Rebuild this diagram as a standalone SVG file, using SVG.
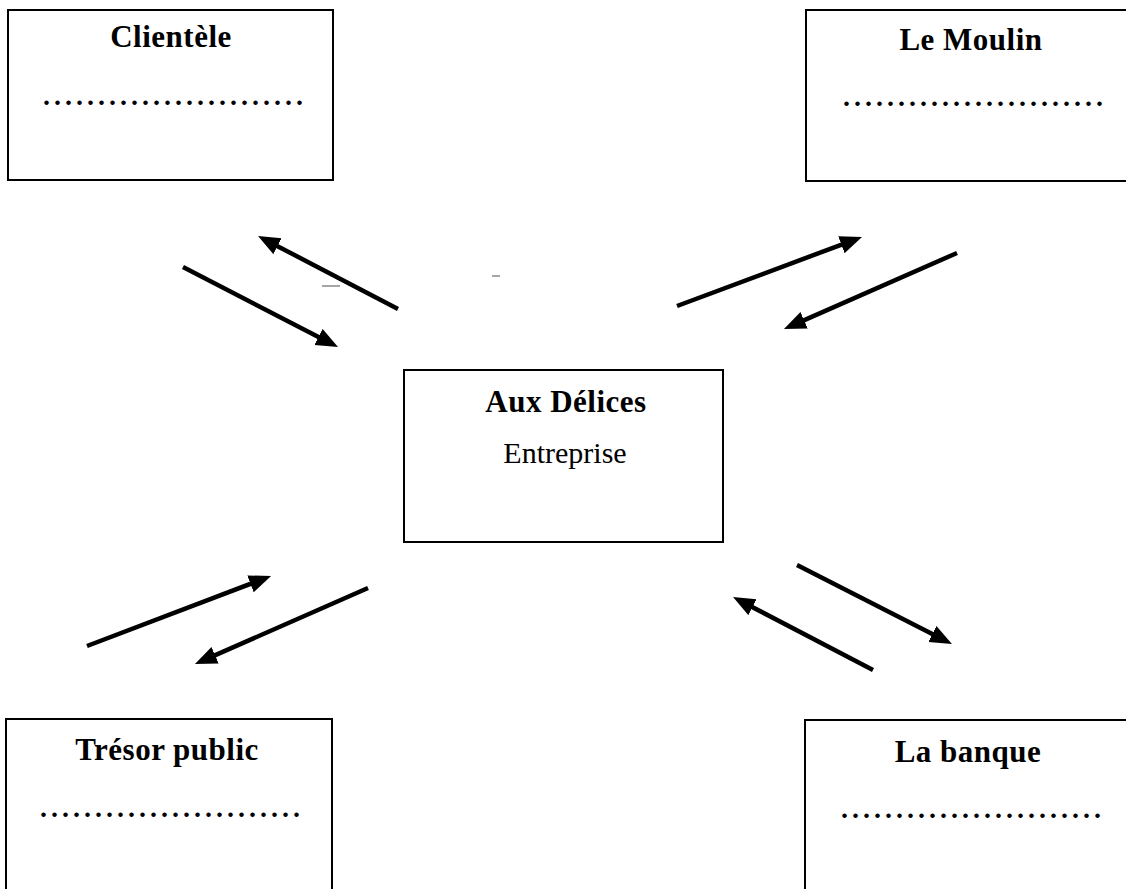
<svg xmlns="http://www.w3.org/2000/svg" width="1126" height="889" viewBox="0 0 1126 889">
<style>
.box{fill:#fff;stroke:#000;stroke-width:2}
.title{font-family:"Liberation Serif","Times New Roman",serif;font-weight:bold;font-size:31px;letter-spacing:0.5px;text-anchor:middle;fill:#000}
.sub{font-family:"Liberation Serif","Times New Roman",serif;font-size:30px;text-anchor:middle;fill:#000}
.dots{font-family:"Liberation Serif","Times New Roman",serif;font-weight:bold;font-size:28px;letter-spacing:4px;fill:#000}
.arr{stroke:#000;stroke-width:4.5;fill:none;marker-end:url(#ah)}
.mark{stroke:#888;stroke-width:1.5}
</style>
<defs>
<marker id="ah" markerUnits="userSpaceOnUse" markerWidth="24" markerHeight="20" refX="6" refY="9" orient="auto">
<path d="M0,0 L22,9 L0,18 z" fill="#000"/>
</marker>
</defs>
<rect width="1126" height="889" fill="#fff"/>
<g id="clientele">
<rect class="box" x="8" y="10" width="325" height="170"/>
<text class="title" x="171" y="47">Clientèle</text>
<text class="dots" x="43" y="105">........................</text>
</g>
<g id="le-moulin">
<rect class="box" x="806" y="10" width="330" height="171"/>
<text class="title" x="971" y="50">Le Moulin</text>
<text class="dots" x="843" y="106">........................</text>
</g>
<g id="aux-delices">
<rect class="box" x="404" y="370" width="319" height="172"/>
<text class="title" x="566" y="412">Aux Délices</text>
<text class="sub" x="565" y="463">Entreprise</text>
</g>
<g id="tresor-public">
<rect class="box" x="6" y="719" width="326" height="180"/>
<text class="title" x="167" y="760">Trésor public</text>
<text class="dots" x="40" y="817">........................</text>
</g>
<g id="la-banque">
<rect class="box" x="805" y="720" width="330" height="180"/>
<text class="title" x="968" y="762">La banque</text>
<text class="dots" x="841" y="818">........................</text>
</g>
<g id="connectors">
<line class="arr" x1="398" y1="309" x2="272.2" y2="243.4"/>
<line class="arr" x1="183" y1="267" x2="323.8" y2="339.7"/>
<line class="arr" x1="677" y1="306" x2="847" y2="242.6"/>
<line class="arr" x1="957" y1="253" x2="798.6" y2="322.6"/>
<line class="arr" x1="87" y1="646" x2="256.1" y2="581.7"/>
<line class="arr" x1="368" y1="588" x2="209.6" y2="657.6"/>
<line class="arr" x1="797" y1="565" x2="937.7" y2="636.7"/>
<line class="arr" x1="873" y1="670" x2="747.2" y2="604.4"/>
</g>
<line class="mark" x1="322" y1="286" x2="340" y2="286"/>
<line class="mark" x1="492" y1="276" x2="500" y2="276"/>
</svg>
